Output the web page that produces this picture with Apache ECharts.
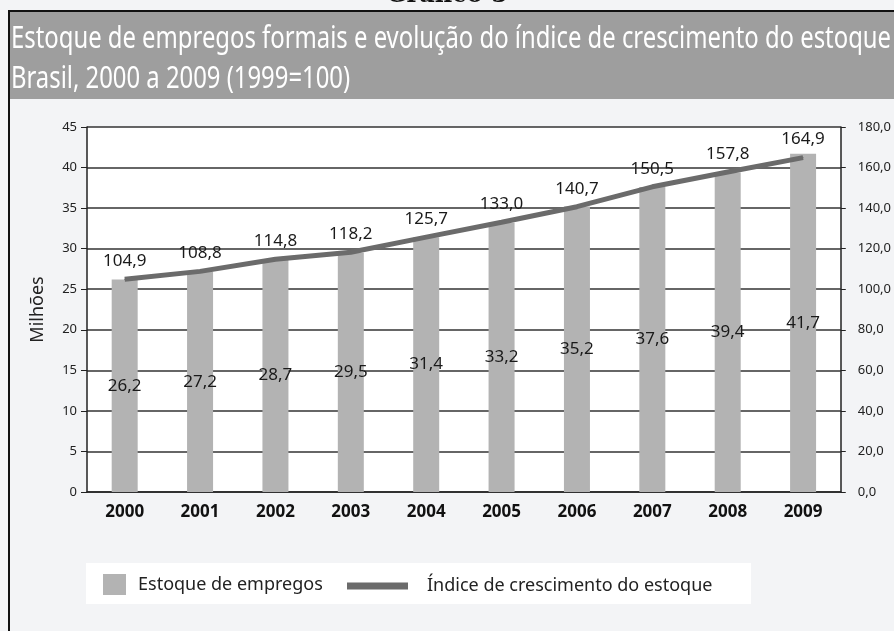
<!DOCTYPE html>
<html>
<head>
<meta charset="utf-8">
<script src="https://cdn.jsdelivr.net/npm/echarts@6/dist/echarts.min.js"></script>
<style>
  html, body { margin: 0; padding: 0; background: #f3f4f6; }
  #chart { width: 894px; height: 631px; }
</style>
</head>
<body>
<div id="chart"></div>
<script>
const years = ["2000", "2001", "2002", "2003", "2004", "2005", "2006", "2007", "2008", "2009"];
const estoque = [26.2, 27.2, 28.7, 29.5, 31.4, 33.2, 35.2, 37.6, 39.4, 41.7];
const indice = [104.9, 108.8, 114.8, 118.2, 125.7, 133.0, 140.7, 150.5, 157.8, 164.9];

const titleLine1 = "Estoque de empregos formais e evolução do índice de crescimento do estoque";
const titleLine2 = "Brasil, 2000 a 2009 (1999=100)";

const narrow = "'Noto Sans', sans-serif";
const comma = (v, d) => v.toFixed(d).replace(".", ",");

// title font is condensed in the original, squeeze it horizontally
const titleFont = "31px 'Noto Sans', sans-serif";
const ctx = document.createElement("canvas").getContext("2d");
ctx.font = titleFont;
const squeeze = 880 / ctx.measureText(titleLine1).width;

const chart = echarts.init(document.getElementById("chart"));

chart.setOption({
  backgroundColor: "#f3f4f6",
  animation: false,
  grid: {
    left: 87, right: 49, top: 127, bottom: 139,
    show: true, backgroundColor: "#fff", borderWidth: 0
  },
  legend: [
    {
      left: 103, top: 574, padding: 0,
      itemWidth: 23, itemHeight: 21,
      data: [{ name: "Estoque de empregos", icon: "rect" }],
      textStyle: { fontFamily: narrow, fontSize: 18, color: "#222", padding: [0, 0, 0, 7] }
    },
    {
      left: 347, top: 577, padding: 0,
      itemWidth: 61, itemHeight: 7,
      data: [{ name: "Índice de crescimento do estoque", icon: "rect" }],
      textStyle: { fontFamily: narrow, fontSize: 18, color: "#222", padding: [0, 0, 0, 14] }
    }
  ],
  xAxis: {
    type: "category",
    data: years,
    axisLine: { lineStyle: { color: "#222", width: 1.5 } },
    axisTick: { show: false },
    axisLabel: { fontFamily: narrow, fontSize: 17, fontWeight: "bold", color: "#111", margin: 12 }
  },
  yAxis: [
    {
      type: "value", min: 0, max: 45, interval: 5,
      name: "Milhões", nameLocation: "middle", nameGap: 40,
      nameTextStyle: { fontFamily: narrow, fontSize: 18, color: "#222" },
      axisLine: { show: true, lineStyle: { color: "#222", width: 1.5 } },
      axisTick: { show: true, length: 6, lineStyle: { color: "#222" } },
      axisLabel: { fontFamily: narrow, fontSize: 13, color: "#222", margin: 10 },
      splitLine: { lineStyle: { color: "#333", width: 1.5 } }
    },
    {
      type: "value", min: 0, max: 180, interval: 20, position: "right",
      axisLine: { show: true, lineStyle: { color: "#222", width: 1.5 } },
      axisTick: { show: true, length: 5, lineStyle: { color: "#222" } },
      axisLabel: { fontFamily: narrow, fontSize: 13, color: "#222", margin: 17, formatter: (v) => comma(v, 1) },
      splitLine: { show: false }
    }
  ],
  series: [
    {
      name: "Estoque de empregos",
      type: "bar",
      data: estoque,
      barWidth: 26,
      itemStyle: { color: "#b3b3b3" },
      label: {
        show: true, position: "inside",
        fontFamily: narrow, fontSize: 17, color: "#1a1a1a",
        formatter: (p) => comma(p.value, 1)
      }
    },
    {
      name: "Índice de crescimento do estoque",
      type: "line",
      yAxisIndex: 1,
      data: indice,
      symbol: "circle",
      symbolSize: 1,
      showSymbol: true,
      color: "#6b6b6b",
      itemStyle: { color: "#6b6b6b" },
      lineStyle: { color: "#6b6b6b", width: 5 },
      z: 5,
      label: {
        show: true, position: "top", distance: 9,
        fontFamily: narrow, fontSize: 17, color: "#1a1a1a",
        formatter: (p) => comma(p.value, 1)
      }
    }
  ],
  graphic: [
    {
      type: "rect", z: -1, silent: true,
      shape: { x: 86, y: 563, width: 665, height: 41 },
      style: { fill: "#fff" }
    },
    {
      type: "rect", silent: true,
      shape: { x: 9, y: 11, width: 900, height: 88 },
      style: { fill: "#9e9e9e" }
    },
    {
      type: "polyline", silent: true,
      shape: { points: [[900, 11], [9, 11], [9, 640]] },
      style: { stroke: "#111", lineWidth: 2, fill: null }
    },
    {
      type: "text", silent: true, x: 447, y: 8,
      style: {
        text: "Gráfico 5", font: "bold 24px 'DejaVu Serif', serif",
        fill: "#111", align: "center", verticalAlign: "bottom"
      }
    },
    {
      type: "text", silent: true, x: 11, y: 39, scaleX: squeeze,
      style: { text: titleLine1, font: titleFont, fill: "#fff", verticalAlign: "middle" }
    },
    {
      type: "text", silent: true, x: 11, y: 79, scaleX: squeeze,
      style: { text: titleLine2, font: titleFont, fill: "#fff", verticalAlign: "middle" }
    }
  ]
});
</script>
</body>
</html>
